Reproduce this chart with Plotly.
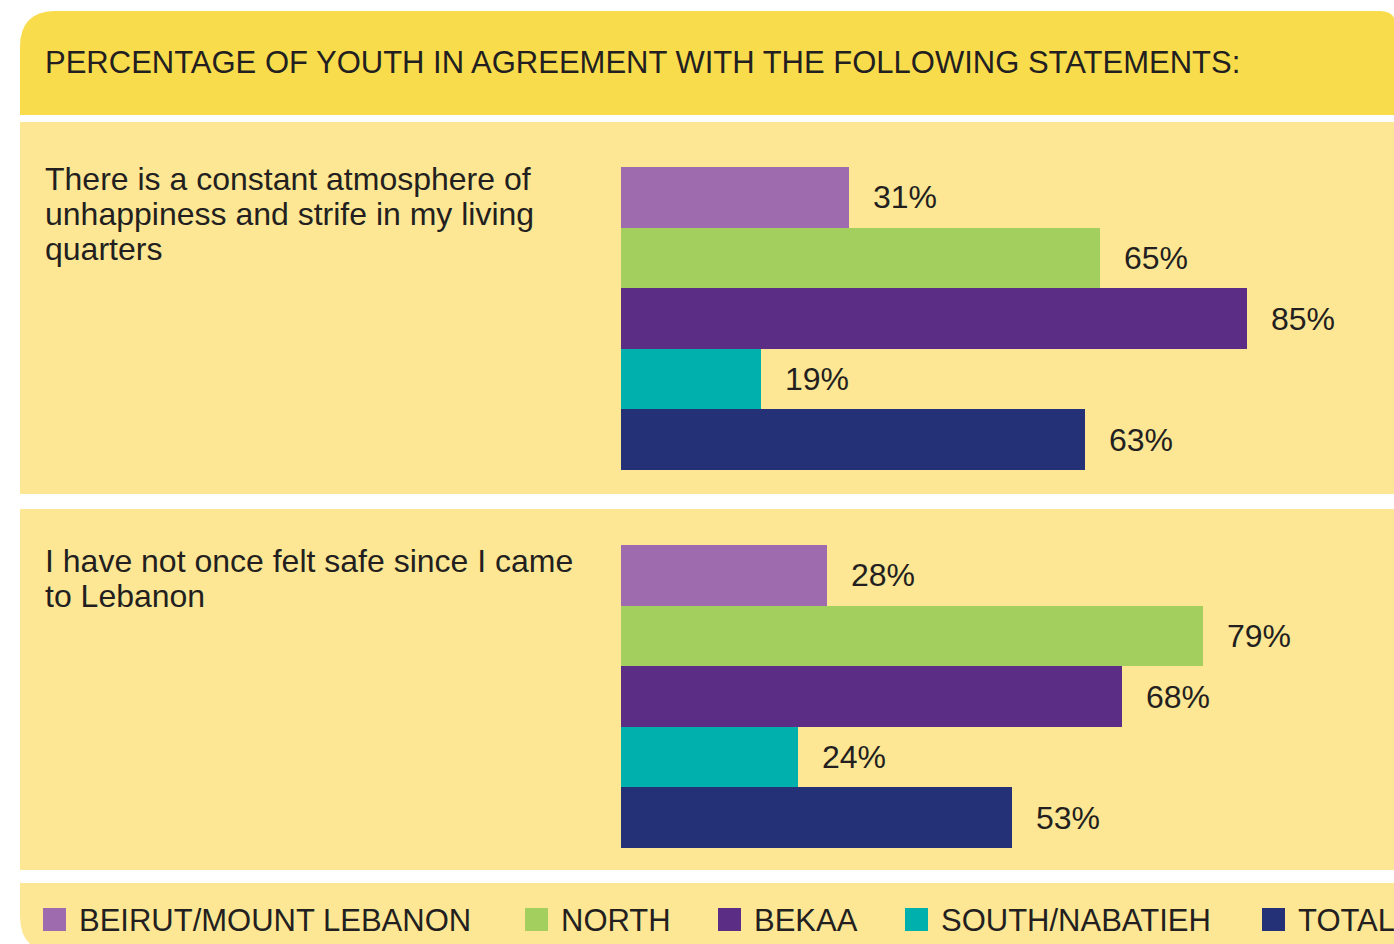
import plotly.graph_objects as go

W, H = 1394, 944

title = "PERCENTAGE OF YOUTH IN AGREEMENT WITH THE FOLLOWING STATEMENTS:"
regions = ["BEIRUT/MOUNT LEBANON", "NORTH", "BEKAA", "SOUTH/NABATIEH", "TOTAL"]
colors = ["#9E6BAE", "#A3CF5F", "#5C2D85", "#00B0AC", "#253177"]
statements = [
    "There is a constant atmosphere of\nunhappiness and strife in my living\nquarters",
    "I have not once felt safe since I came\nto Lebanon",
]
unhappy = [31, 65, 85, 19, 63]
unsafe = [28, 79, 68, 24, 53]

text_col = "#231F20"
font = "Liberation Sans, Arial, Helvetica, sans-serif"


def px(x):
    return x / W


def py(y):
    return 1 - y / H


fig = go.Figure()
values = [unhappy, unsafe]
for i, vals in enumerate(values):
    ax = "" if i == 0 else str(i + 1)
    fig.add_trace(go.Bar(
        x=vals, y=regions, orientation="h",
        marker=dict(color=colors, line=dict(width=0)),
        xaxis="x" + ax, yaxis="y" + ax, showlegend=False,
        hoverinfo="x+y",
    ))
    for r, v in zip(regions, vals):
        fig.add_annotation(
            x=v, y=r, xref="x" + ax, yref="y" + ax, text=f"{v}%",
            showarrow=False, xanchor="left", xshift=22,
            font=dict(size=32, color=text_col, family=font),
        )

# panels (pixel geometry of the page)
shapes = []


def rect(x0, y0, x1, y1, color):
    shapes.append(dict(type="rect", xref="paper", yref="paper",
                       x0=px(x0), x1=px(x1), y0=py(y1), y1=py(y0),
                       fillcolor=color, line=dict(width=0), layer="below"))


def path_shape(pts, color):
    shapes.append(dict(type="path", xref="paper", yref="paper", path=pts,
                       fillcolor=color, line=dict(width=0), layer="below"))


# header with rounded top corners
r, rr = 36, 16
x0, y0, x1, y1 = 20, 11, 1396, 115
p = (f"M{px(x0)},{py(y1)} L{px(x0)},{py(y0 + r)} "
     f"Q{px(x0)},{py(y0)} {px(x0 + r)},{py(y0)} "
     f"L{px(x1 - rr)},{py(y0)} Q{px(x1)},{py(y0)} {px(x1)},{py(y0 + rr)} "
     f"L{px(x1)},{py(y1)} Z")
path_shape(p, "#F9DC4C")

panel = "#FDE794"
rect(20, 122, 1396, 494, panel)
rect(20, 509, 1396, 870, panel)
# legend band with rounded bottom-left corner
x0, y0, x1, y1 = 20, 883, 1396, 952
p = (f"M{px(x0)},{py(y0)} L{px(x1)},{py(y0)} L{px(x1)},{py(y1)} "
     f"L{px(x0 + r)},{py(y1)} Q{px(x0)},{py(y1)} {px(x0)},{py(y1 - r)} Z")
path_shape(p, panel)

annotations = []
annotations.append(dict(x=px(43), y=py(62), xref="paper", yref="paper",
                        text=title, showarrow=False, xanchor="left", yanchor="middle",
                        font=dict(size=31, color=text_col, family=font)))

for st, top in zip(statements, [179, 561]):
    for j, line in enumerate(st.split("\n")):
        annotations.append(dict(x=px(43), y=py(top + j * 35), xref="paper", yref="paper",
                                text=line, showarrow=False, xanchor="left", yanchor="middle",
                                font=dict(size=32, color=text_col, family=font)))

# legend
leg_x = [43, 525, 718, 905, 1262]
for name, c, lx in zip(regions, colors, leg_x):
    rect(lx, 908, lx + 23, 931, c)
    annotations.append(dict(x=px(lx + 34), y=py(920), xref="paper", yref="paper",
                            text=name, showarrow=False, xanchor="left", yanchor="middle",
                            font=dict(size=31, color=text_col, family=font)))

xdom = [px(621), px(1358)]
fig.update_layout(
    width=W, height=H,
    margin=dict(l=0, r=0, t=0, b=0),
    paper_bgcolor="white", plot_bgcolor="rgba(0,0,0,0)",
    bargap=0,
    shapes=shapes,
    xaxis=dict(domain=xdom, range=[0, 100], visible=False, fixedrange=True),
    xaxis2=dict(domain=xdom, range=[0, 100], visible=False, anchor="y2", fixedrange=True),
    yaxis=dict(domain=[py(470), py(167)], range=[4.5, -0.5], visible=False,
               categoryorder="array", categoryarray=regions),
    yaxis2=dict(domain=[py(848), py(545)], range=[4.5, -0.5], visible=False, anchor="x2",
                categoryorder="array", categoryarray=regions),
    showlegend=False,
)
for a in annotations:
    fig.add_annotation(**a)

# drop the default page margin so the chart fills the window
fig.write_html("out.html", config={"displayModeBar": False},
               post_script="document.body.style.margin='0';document.body.style.overflow='hidden';")
